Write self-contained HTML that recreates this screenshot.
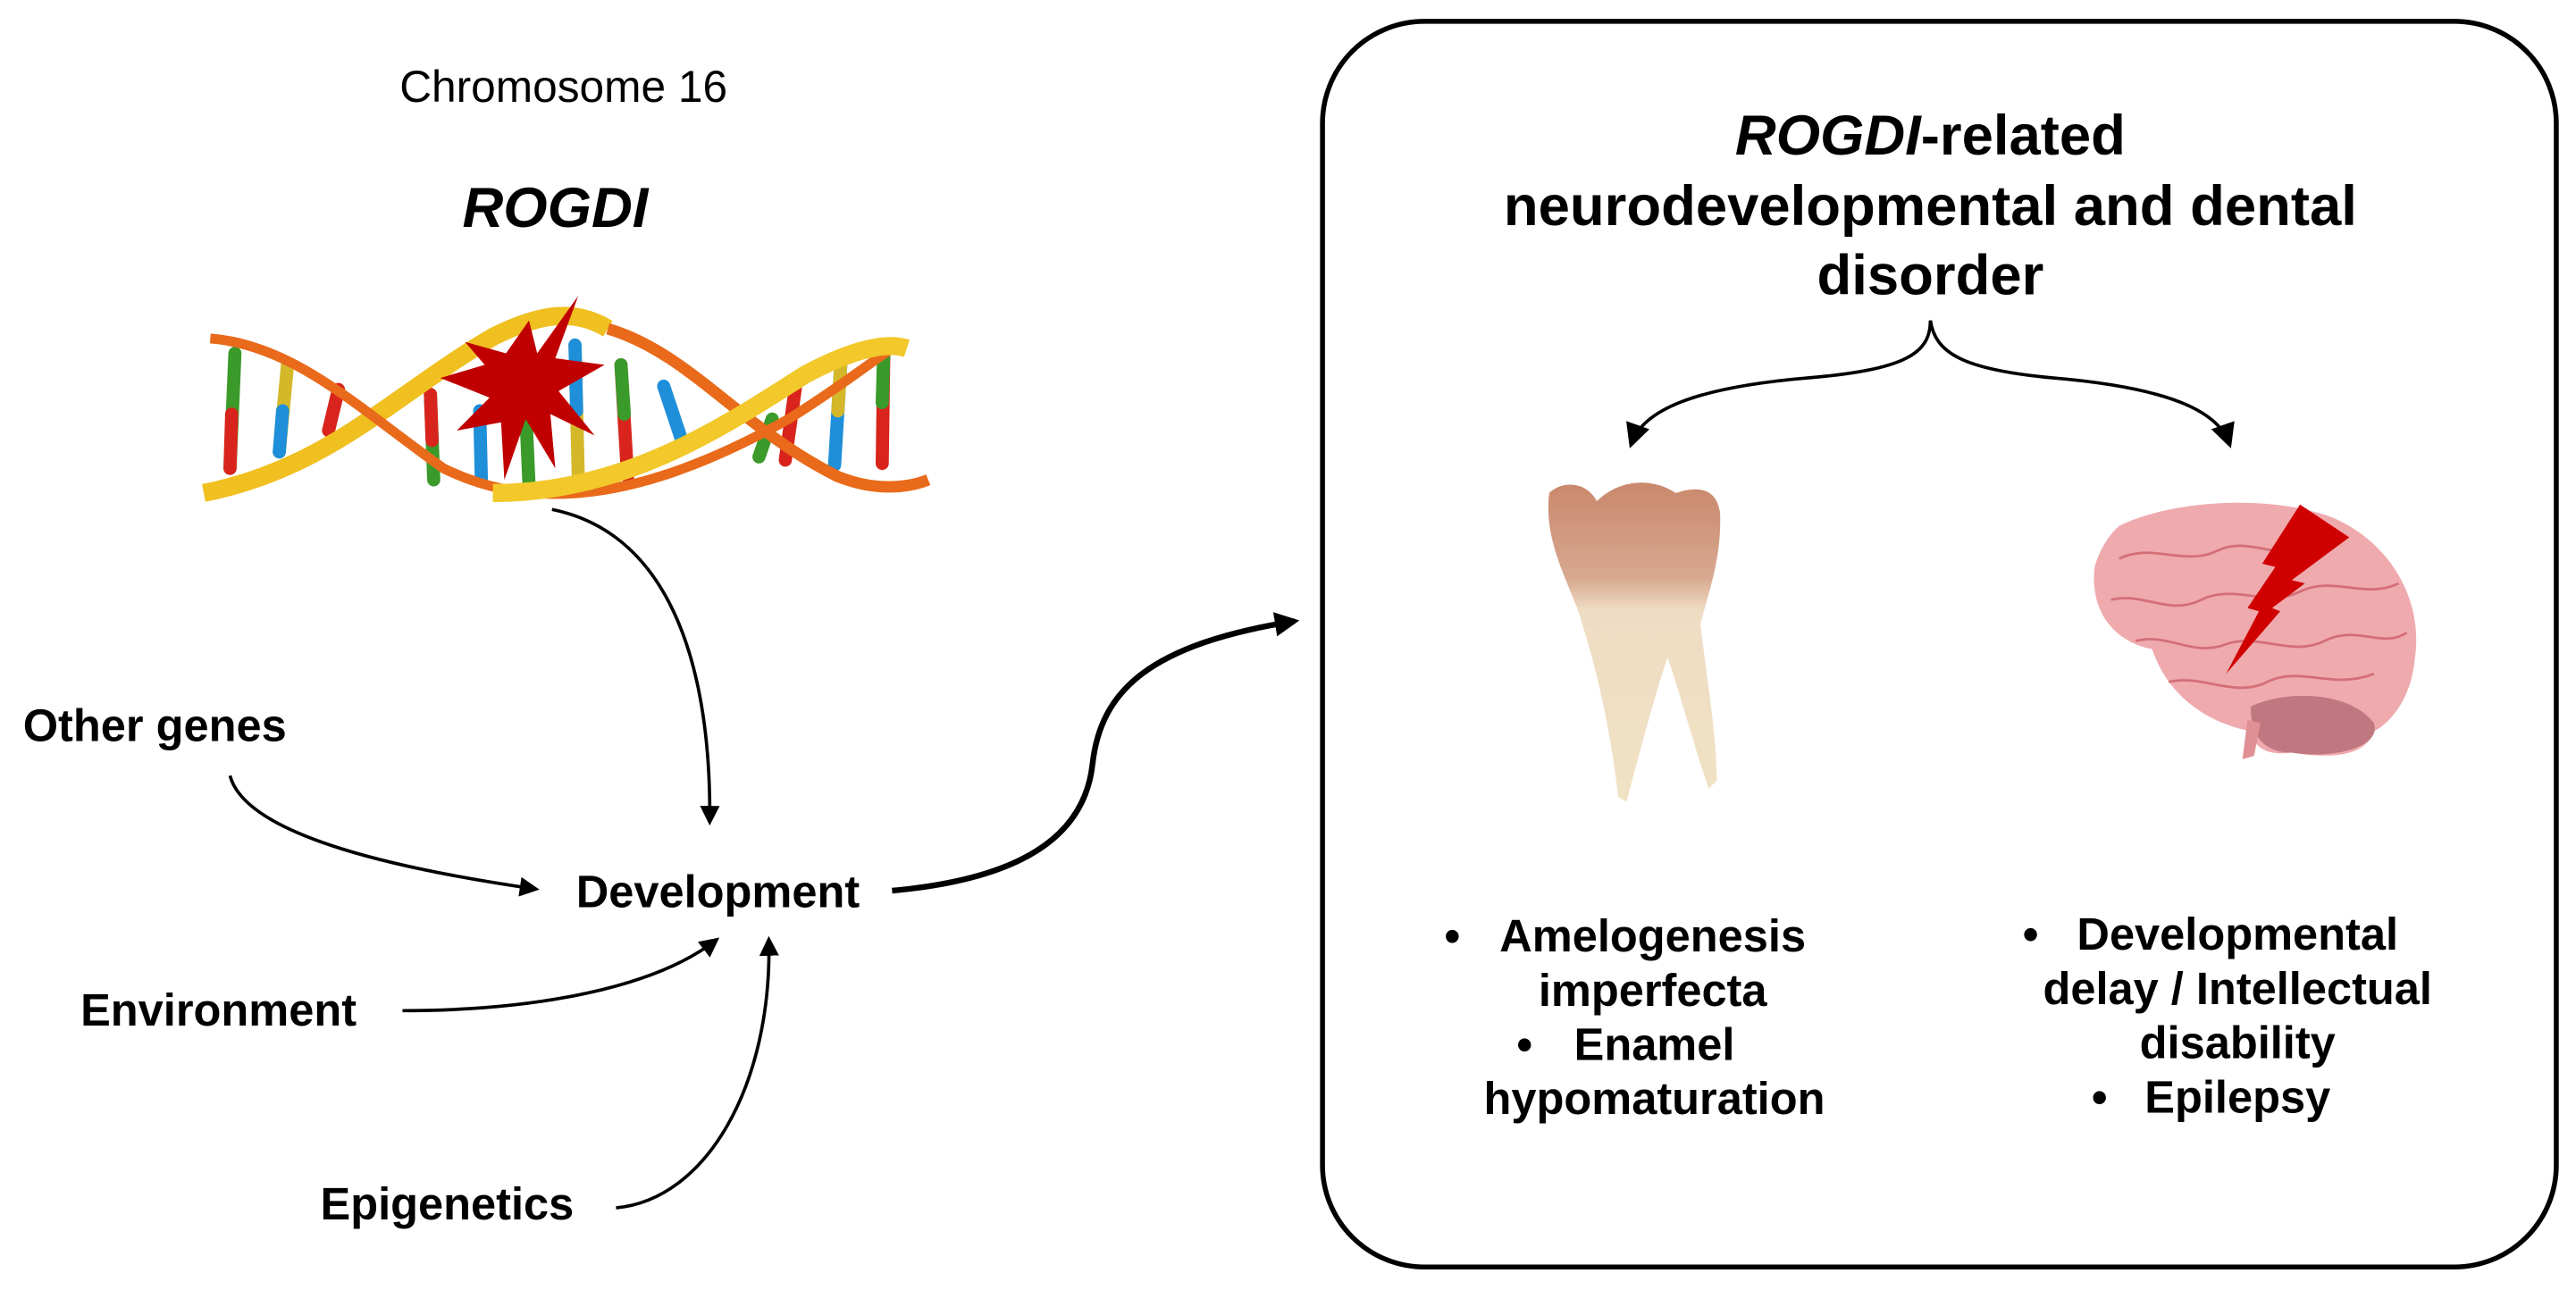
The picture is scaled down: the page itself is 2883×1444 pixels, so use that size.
<!DOCTYPE html>
<html><head><meta charset="utf-8"><style>
html,body{margin:0;padding:0;background:#fff;}
svg{display:block;}
text{font-family:"Liberation Sans",Arial,sans-serif;fill:#000;}
.b{font-weight:bold;}
</style></head><body>
<svg width="2883" height="1444" viewBox="0 0 1568 785" preserveAspectRatio="none" xmlns="http://www.w3.org/2000/svg">
<defs>
<marker id="ah" viewBox="0 0 10 10" refX="8" refY="5" markerWidth="12" markerHeight="12" orient="auto" markerUnits="userSpaceOnUse"><path d="M0,0 L10,5 L0,10 z" fill="#000"/></marker>
<marker id="ah2" viewBox="0 0 10 10" refX="8" refY="5" markerWidth="15" markerHeight="15" orient="auto" markerUnits="userSpaceOnUse"><path d="M0,0 L10,5 L0,10 z" fill="#000"/></marker>
<linearGradient id="tooth" x1="0" y1="0" x2="0" y2="1"><stop offset="0" stop-color="#c9886c"/><stop offset="0.3" stop-color="#d8a890"/><stop offset="0.4" stop-color="#efdcc4"/><stop offset="1" stop-color="#f0e2c4"/></linearGradient>
</defs>
<text x="343" y="62" font-size="27" text-anchor="middle">Chromosome 16</text>
<text x="338" y="138" font-size="34.5" class="b" font-style="italic" text-anchor="middle">ROGDI</text>
<!-- DNA -->
<g stroke-linecap="round" stroke-width="8">
<line x1="143" y1="215" x2="140" y2="285" stroke="#3a9a2a"/><line x1="141" y1="252" x2="140" y2="285" stroke="#d8241c"/>
<line x1="175" y1="222" x2="170" y2="275" stroke="#d4b82a"/><line x1="172" y1="250" x2="170" y2="275" stroke="#1e8fd8"/>
<line x1="206" y1="237" x2="200" y2="262" stroke="#d8241c"/>
<line x1="262" y1="240" x2="264" y2="292" stroke="#3a9a2a"/><line x1="262" y1="240" x2="263" y2="268" stroke="#d8241c"/>
<line x1="292" y1="250" x2="293" y2="292" stroke="#1e8fd8"/>
<line x1="320" y1="250" x2="322" y2="295" stroke="#3a9a2a"/>
<line x1="350" y1="210" x2="352" y2="290" stroke="#d4b82a"/><line x1="350" y1="210" x2="351" y2="250" stroke="#1e8fd8"/>
<line x1="378" y1="222" x2="382" y2="290" stroke="#d8241c"/><line x1="378" y1="222" x2="380" y2="252" stroke="#3a9a2a"/>
<line x1="404" y1="235" x2="415" y2="268" stroke="#1e8fd8"/>
<line x1="470" y1="255" x2="462" y2="278" stroke="#3a9a2a"/>
<line x1="485" y1="230" x2="478" y2="280" stroke="#d8241c"/>
<line x1="512" y1="218" x2="508" y2="283" stroke="#1e8fd8"/><line x1="512" y1="218" x2="510" y2="250" stroke="#d4b82a"/>
<line x1="538" y1="212" x2="537" y2="282" stroke="#d8241c"/><line x1="538" y1="212" x2="537" y2="245" stroke="#3a9a2a"/>
</g>
<path d="M124,300 C200,285 240,240 300,205 C330,190 350,188 370,200" fill="none" stroke="#f0c020" stroke-width="11"/>
<path d="M128,206 C180,210 220,250 270,285 C330,315 400,300 480,255 C520,230 540,212 548,210" fill="none" stroke="#e86a1a" stroke-width="6"/>
<path d="M370,200 C420,215 450,260 510,290 C535,300 555,296 565,292" fill="none" stroke="#e86a1a" stroke-width="7"/>
<path d="M300,300 C380,300 440,260 490,228 C520,212 540,208 552,212" fill="none" stroke="#f2c82a" stroke-width="11"/>
<polygon points="322,195 327,215 352,180 338,218 368,222 340,238 362,265 335,252 338,285 320,255 307,292 305,257 278,262 298,242 268,230 295,222 283,208 308,215" fill="#c00000"/>
<!-- left labels -->
<g font-size="27.5" class="b">
<text x="14" y="451">Other genes</text>
<text x="437" y="552" text-anchor="middle">Development</text>
<text x="49" y="624">Environment</text>
<text x="195" y="742">Epigenetics</text>
</g>
<g fill="none" stroke="#000" stroke-width="2">
<path d="M336,310 C410,325 433,410 432,500" marker-end="url(#ah)"/>
<path d="M140,472 C150,510 250,530 326,541" marker-end="url(#ah)"/>
<path d="M245,615 C330,615 400,600 436,572" marker-end="url(#ah)"/>
<path d="M375,735 C430,730 470,660 468,572" marker-end="url(#ah)"/>
<path d="M543,542 C620,535 660,510 665,465 C670,420 700,392 788,378" stroke-width="3.5" marker-end="url(#ah2)"/>
<path d="M1175,195 C1175,215 1160,225 1100,230 C1030,236 1000,250 993,270" marker-end="url(#ah2)"/>
<path d="M1175,195 C1178,215 1195,225 1250,230 C1320,236 1350,250 1357,270" marker-end="url(#ah2)"/>
</g>
<rect x="805" y="13" width="751" height="758" rx="62" fill="none" stroke="#000" stroke-width="3"/>
<g font-size="34.5" class="b" text-anchor="middle">
<text x="1175" y="94"><tspan font-style="italic">ROGDI</tspan>-related</text>
<text x="1175" y="137">neurodevelopmental and dental</text>
<text x="1175" y="179">disorder</text>
</g>
<!-- tooth -->
<path d="M943,300 C950,293 965,292 972,305 C985,292 1005,290 1020,300 C1035,295 1045,298 1047,312 C1048,340 1040,360 1035,380 C1040,420 1045,450 1045,475 L1040,480 C1030,450 1022,420 1015,400 C1005,430 995,470 990,488 L985,485 C980,440 970,400 960,370 C950,345 940,325 943,300 Z" fill="url(#tooth)"/>
<!-- brain -->
<path d="M1290,320 C1320,305 1380,300 1420,315 C1455,330 1475,365 1470,400 C1468,425 1455,440 1445,445 C1440,460 1420,462 1395,458 C1380,460 1372,455 1370,445 C1345,440 1320,425 1310,395 C1285,390 1272,370 1275,345 C1278,335 1283,326 1290,320 Z" fill="#efaaae"/>
<path d="M1370,430 C1390,420 1430,420 1445,440 C1450,455 1420,462 1395,458 C1380,458 1370,450 1370,430 Z" fill="#c07880"/>
<path d="M1368,438 L1365,462 L1372,460 L1376,440 Z" fill="#e09095"/>
<g fill="none" stroke="#c85660" stroke-width="1.5" opacity="0.7">
<path d="M1290,340 C1310,330 1330,345 1350,335 C1370,325 1390,345 1410,330"/>
<path d="M1285,365 C1305,360 1320,375 1340,365 C1360,355 1380,370 1400,360 C1420,350 1440,365 1460,355"/>
<path d="M1300,390 C1320,385 1335,400 1355,392 C1375,385 1395,400 1415,390 C1435,380 1450,395 1465,385"/>
<path d="M1320,415 C1340,410 1360,425 1380,415 C1400,405 1420,420 1445,410"/>
</g>
<polygon points="1400,307 1430,327 1395,353 1403,355 1383,370 1388,372 1355,410 1375,372 1368,370 1385,345 1377,343" fill="#d00000"/>
<!-- bullets -->
<g font-size="27.5" class="b" text-anchor="middle">
<text y="579"><tspan x="884">•</tspan><tspan x="1006">Amelogenesis</tspan></text>
<text x="1006" y="612">imperfecta</text>
<text y="645"><tspan x="928">•</tspan><tspan x="1007">Enamel</tspan></text>
<text x="1007" y="678">hypomaturation</text>
<text y="578"><tspan x="1236">•</tspan><tspan x="1362">Developmental</tspan></text>
<text x="1362" y="611">delay / Intellectual</text>
<text x="1362" y="644">disability</text>
<text y="677"><tspan x="1278">•</tspan><tspan x="1362">Epilepsy</tspan></text>
</g>
</svg>
</body></html>
